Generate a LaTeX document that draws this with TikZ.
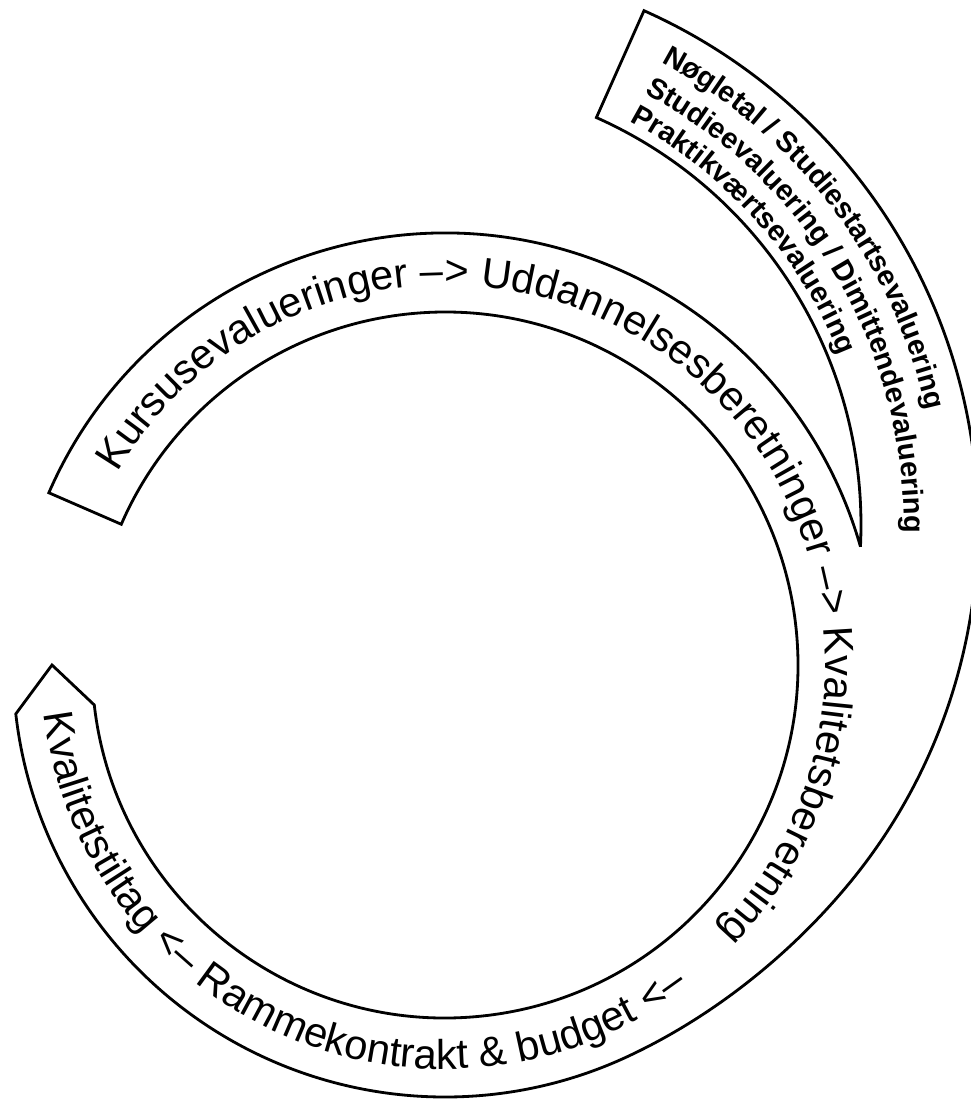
\documentclass[tikz,border=0pt]{standalone}
\usepackage{fontspec}
\setmainfont{Liberation Sans}
\usetikzlibrary{calc, decorations.text}
\newcommand\cyclefont{\fontsize{23.7}{28}\selectfont}
\newcommand\keyfont{\fontsize{16.5}{20}\selectfont\bfseries}
\tikzset{
x=0.2mm, y=0.2mm,
band/.style={%
    draw=black,
    line width=1.6pt,
    fill=white
},
along/.style={%
    decorate,
    decoration={text along path, text={#1}}
},
}

\begin{document}
\begin{tikzpicture}
\useasboundingbox (0,0) rectangle (971,-1099);
\coordinate (C) at (445,-665);   % centre of the cycle
\coordinate (B) at (415,-525);   % centre of the key figures ring

% the spiral band
\draw[band] ($(C)+(156.5:353)$) -- ($(C)+(156.5:432)$)
    arc[start angle=156.5, end angle=15.9, radius=432]
    -- ($(B)+(-2.8:446)$) arc[start angle=-2.8, end angle=66, radius=446]
    -- ($(B)+(66:563)$) arc[start angle=66, end angle=-40, radius=563]
    .. controls +(-130:92) and +(25:92) .. ($(C)+(-65:432)$)
    arc[start angle=-65, end angle=-173.5, radius=432]
    -- ($(C)+(180:393)$) -- ($(C)+(-173.5:353)$)
    arc[start angle=-173.5, end angle=156.5, radius=353] -- cycle;

% texts of the cycle
\path[along={|\cyclefont|Kursusevalueringer –> Uddannelsesberetninger –> Kvalitetsberetning}]
    ($(C)+(149.5:380)$) arc[start angle=149.5, end angle=-60, radius=380];
\path[along={|\cyclefont|Kvalitetstiltag <– Rammekontrakt {\&} budget <–}]
    ($(C)+(186.9:404)$) arc[start angle=186.9, end angle=320, radius=404];

% key figures
\path[along={|\keyfont|Nøgletal / Studiestartsevaluering}]
    ($(B)+(62:524)$) arc[start angle=62, end angle=-10, radius=524];
\path[along={|\keyfont|Studieevaluering / Dimittendevaluering}]
    ($(B)+(62:489)$) arc[start angle=62, end angle=-10, radius=489];
\path[along={|\keyfont|Praktikværtsevaluering}]
    ($(B)+(62:457)$) arc[start angle=62, end angle=-10, radius=457];
\end{tikzpicture}
\end{document}
